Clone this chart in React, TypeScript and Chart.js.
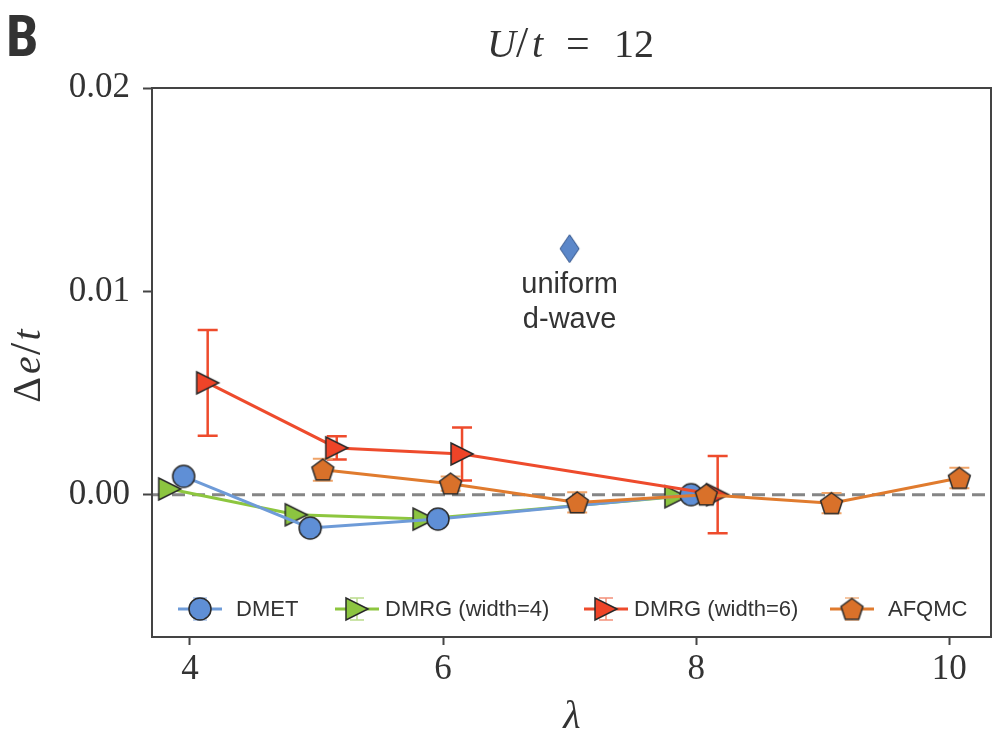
import React, { useEffect, useRef } from "react";
import { Chart, registerables } from "chart.js";
Chart.register(...registerables);

// ---------- data ----------
const xTicks = [4, 6, 8, 10];
const yTicks = [0, 0.01, 0.02];
const xMin = 3.7;
const xMax = 10.33;
const yMin = -0.007;
const yMax = 0.02;

const seriesNames = ["DMET", "DMRG (width=4)", "DMRG (width=6)", "AFQMC"];

const dmetX = [3.95, 4.95, 5.96, 7.96];
const dmetY = [0.0009, -0.00164, -0.0012, 0.0];

const dmrg4X = [3.84, 4.84, 5.85, 7.84];
const dmrg4Y = [0.00028, -0.00099, -0.0012, -0.0001];

const dmrg6X = [4.14, 5.16, 6.15, 8.17];
const dmrg6Y = [0.0055, 0.0023, 0.002, 0.0];
const dmrg6Err = [0.0026, 0.00057, 0.0013, 0.0019];

const afqmcX = [5.05, 6.06, 7.06, 8.08, 9.07, 10.08];
const afqmcY = [0.00123, 0.00054, -0.00038, 0.0, -0.00042, 0.00082];
const afqmcErr = [0.00054, 0.00035, 0.0005, 0.0003, 0.0005, 0.0005];

const dwaveX = [7.0];
const dwaveY = [0.0121];
const dwaveLabel = ["uniform", "d-wave"];

// ---------- styles ----------
const SERIF = '"Liberation Serif", "DejaVu Serif", serif';
const SANS = '"Liberation Sans", Arial, sans-serif';
const TEXT = "#333333";
const AXIS = "#444444";

const C = {
  dmetLine: "#6e9bd8",
  dmetFill: "#5f8fd6",
  dmetCap: "#a9c2e8",
  g4Line: "#8dc63f",
  g4Fill: "#8cc540",
  g4Cap: "#bbdc8c",
  r6Line: "#ee4b2c",
  r6Fill: "#ef4428",
  r6Err: "#ee4b2c",
  r6Cap: "#f3907a",
  afLine: "#e07b2e",
  afFill: "#d9712a",
  afErr: "#f0a468",
  afCap: "#f2b484",
  dwFill: "#5b87c9",
  dwEdge: "#2d4f86",
  edge: "#2a2a2a",
};

function markerCanvas(
  w: number,
  h: number,
  path: (ctx: CanvasRenderingContext2D) => void,
  fill: string,
  stroke: string,
  lw: number
) {
  const c = document.createElement("canvas");
  const pad = Math.ceil(lw) + 1;
  c.width = Math.ceil(w) + 2 * pad;
  c.height = Math.ceil(h) + 2 * pad;
  const ctx = c.getContext("2d")!;
  ctx.translate(c.width / 2, c.height / 2);
  ctx.beginPath();
  path(ctx);
  ctx.closePath();
  ctx.fillStyle = fill;
  ctx.fill();
  ctx.lineWidth = lw;
  ctx.strokeStyle = stroke;
  ctx.lineJoin = "miter";
  ctx.stroke();
  return c;
}

function makeMarkers() {
  const circle = markerCanvas(22, 22, (ctx) => ctx.arc(0, 0, 11, 0, Math.PI * 2), C.dmetFill, C.edge, 1.5);
  const tri = (fill: string) =>
    markerCanvas(
      22,
      22,
      (ctx) => {
        ctx.moveTo(11, 0);
        ctx.lineTo(-11, -11);
        ctx.lineTo(-11, 11);
      },
      fill,
      C.edge,
      1.5
    );
  const r = 11.5;
  const pent = markerCanvas(
    2 * r,
    2 * r,
    (ctx) => {
      for (let k = 0; k < 5; k++) {
        const a = -Math.PI / 2 + (k * 2 * Math.PI) / 5;
        const px = r * Math.cos(a);
        const py = r * Math.sin(a) + 1;
        if (k === 0) ctx.moveTo(px, py);
        else ctx.lineTo(px, py);
      }
    },
    C.afFill,
    C.edge,
    1.5
  );
  const diamond = markerCanvas(
    19,
    28,
    (ctx) => {
      ctx.moveTo(0, -14);
      ctx.lineTo(9.5, 0);
      ctx.lineTo(0, 14);
      ctx.lineTo(-9.5, 0);
    },
    C.dwFill,
    C.dwEdge,
    1
  );
  return { circle, triG: tri(C.g4Fill), triR: tri(C.r6Fill), pent, diamond };
}

const pts = (xs: number[], ys: number[]) => xs.map((x, i) => ({ x, y: ys[i] }));

export default function App() {
  const ref = useRef<HTMLCanvasElement | null>(null);

  useEffect(() => {
    const canvas = ref.current;
    if (!canvas) return;
    const m = makeMarkers();

    const errSeries = [
      { xs: dmrg6X, ys: dmrg6Y, err: dmrg6Err, color: C.r6Err, lw: 2.5 },
      { xs: afqmcX, ys: afqmcY, err: afqmcErr, color: C.afErr, lw: 2 },
    ];

    const underlay = {
      id: "underlay",
      beforeDatasetsDraw(chart: any) {
        const { ctx, chartArea, scales } = chart;
        const y0 = scales.y.getPixelForValue(0);
        ctx.save();
        ctx.beginPath();
        ctx.rect(chartArea.left, chartArea.top, chartArea.right - chartArea.left, chartArea.bottom - chartArea.top);
        ctx.clip();
        ctx.strokeStyle = "#858585";
        ctx.lineWidth = 3;
        ctx.setLineDash([13, 7]);
        ctx.beginPath();
        ctx.moveTo(chartArea.left, y0);
        ctx.lineTo(chartArea.right, y0);
        ctx.stroke();
        ctx.setLineDash([]);
        for (const s of errSeries) {
          ctx.strokeStyle = s.color;
          ctx.lineWidth = s.lw;
          s.xs.forEach((xv, i) => {
            const px = scales.x.getPixelForValue(xv);
            const t = scales.y.getPixelForValue(s.ys[i] + s.err[i]);
            const b = scales.y.getPixelForValue(s.ys[i] - s.err[i]);
            ctx.beginPath();
            ctx.moveTo(px, t);
            ctx.lineTo(px, b);
            ctx.moveTo(px - 10, t);
            ctx.lineTo(px + 10, t);
            ctx.moveTo(px - 10, b);
            ctx.lineTo(px + 10, b);
            ctx.stroke();
          });
        }
        ctx.restore();
      },
    };

    const overlay = {
      id: "overlay",
      afterDraw(chart: any) {
        const { ctx, chartArea, scales } = chart;
        ctx.save();
        // frame
        ctx.strokeStyle = AXIS;
        ctx.lineWidth = 2;
        ctx.strokeRect(chartArea.left, chartArea.top, chartArea.right - chartArea.left, chartArea.bottom - chartArea.top);

        // panel letter
        ctx.fillStyle = TEXT;
        ctx.textBaseline = "alphabetic";
        ctx.textAlign = "left";
        ctx.font = 'bold 58px "Liberation Sans Narrow", "Roboto Condensed", "Liberation Sans", sans-serif';
        ctx.fillText("B", 6, 56);

        // title U/t = 12
        const tFont = (it: boolean, size = 40) => `${it ? "italic " : ""}${size}px ${SERIF}`;
        const title: [string, boolean, number, number][] = [
          ["U", true, 487, 40],
          ["/", false, 516, 44],
          ["t", true, 532, 40],
          ["=", false, 566, 42],
          ["12", false, 614, 40],
        ];
        for (const [s, it, x, sz] of title) {
          ctx.font = tFont(it, sz);
          ctx.fillText(s, x, 57);
        }

        // x label
        ctx.font = `italic 40px ${SERIF}`;
        ctx.textAlign = "center";
        ctx.fillText("\u03bb", 572, 728);

        // y label
        ctx.save();
        ctx.translate(40, 366);
        ctx.rotate(-Math.PI / 2);
        const yl: [string, boolean, number, number][] = [
          ["\u0394", false, -24, 40],
          ["e", true, 1, 40],
          ["/", false, 17, 44],
          ["t", true, 31, 40],
        ];
        for (const [s, it, x, sz] of yl) {
          ctx.font = tFont(it, sz);
          ctx.fillText(s, x, 0);
        }
        ctx.restore();

        // uniform d-wave label
        const dx = scales.x.getPixelForValue(dwaveX[0]);
        const dy = scales.y.getPixelForValue(dwaveY[0]);
        ctx.font = `29px ${SANS}`;
        ctx.textAlign = "center";
        ctx.textBaseline = "middle";
        ctx.fillStyle = TEXT;
        ctx.fillText(dwaveLabel[0], dx, dy + 36);
        ctx.fillText(dwaveLabel[1], dx, dy + 71);

        // legend
        const ly = 609;
        const items = [
          { cx: 200, tx: 236, line: C.dmetLine, cap: C.dmetCap, mk: m.circle },
          { cx: 357, tx: 385, line: C.g4Line, cap: C.g4Cap, mk: m.triG },
          { cx: 606, tx: 634, line: C.r6Line, cap: C.r6Cap, mk: m.triR },
          { cx: 852, tx: 888, line: C.afLine, cap: C.afCap, mk: m.pent },
        ];
        items.forEach((it, i) => {
          ctx.strokeStyle = it.line;
          ctx.lineWidth = 3;
          ctx.beginPath();
          ctx.moveTo(it.cx - 22, ly);
          ctx.lineTo(it.cx + 22, ly);
          ctx.stroke();
          ctx.strokeStyle = it.cap;
          ctx.lineWidth = 1.5;
          ctx.beginPath();
          ctx.moveTo(it.cx, ly - 11);
          ctx.lineTo(it.cx, ly + 11);
          ctx.moveTo(it.cx - 7, ly - 11);
          ctx.lineTo(it.cx + 7, ly - 11);
          ctx.moveTo(it.cx - 7, ly + 11);
          ctx.lineTo(it.cx + 7, ly + 11);
          ctx.stroke();
          ctx.drawImage(it.mk, it.cx - it.mk.width / 2, ly - it.mk.height / 2);
          ctx.font = `22px ${SANS}`;
          ctx.textAlign = "left";
          ctx.textBaseline = "middle";
          ctx.fillStyle = TEXT;
          ctx.fillText(seriesNames[i], it.tx, ly + 1);
        });
        ctx.restore();
      },
    };

    const chart = new Chart(canvas, {
      type: "scatter",
      data: {
        datasets: [
          {
            label: seriesNames[3],
            data: pts(afqmcX, afqmcY),
            showLine: true,
            borderColor: C.afLine,
            borderWidth: 3,
            pointStyle: m.pent as any,
            pointRadius: 10,
            order: 0,
          },
          {
            label: seriesNames[2],
            data: pts(dmrg6X, dmrg6Y),
            showLine: true,
            borderColor: C.r6Line,
            borderWidth: 3,
            pointStyle: m.triR as any,
            pointRadius: 10,
            order: 1,
          },
          {
            label: seriesNames[0],
            data: pts(dmetX, dmetY),
            showLine: true,
            borderColor: C.dmetLine,
            borderWidth: 3,
            pointStyle: m.circle as any,
            pointRadius: 10,
            order: 2,
          },
          {
            label: seriesNames[1],
            data: pts(dmrg4X, dmrg4Y),
            showLine: true,
            borderColor: C.g4Line,
            borderWidth: 3,
            pointStyle: m.triG as any,
            pointRadius: 10,
            order: 3,
          },
          {
            label: "uniform d-wave",
            data: pts(dwaveX, dwaveY),
            showLine: false,
            pointStyle: m.diamond as any,
            pointRadius: 10,
            order: 4,
          },
        ],
      },
      options: {
        animation: false,
        responsive: false,
        events: [],
        layout: { padding: { left: 0, top: 88, right: 9, bottom: 0 } },
        plugins: {
          legend: { display: false },
          tooltip: { enabled: false },
          title: { display: false },
        },
        scales: {
          x: {
            type: "linear",
            min: xMin,
            max: xMax,
            afterBuildTicks: (axis: any) => {
              axis.ticks = xTicks.map((v) => ({ value: v }));
            },
            afterFit: (axis: any) => {
              axis.height = 742 - 637;
            },
            ticks: {
              callback: (v: any) => String(v),
              font: { family: SERIF, size: 35 },
              color: TEXT,
              padding: 4,
              maxRotation: 0,
            },
            grid: {
              display: true,
              drawOnChartArea: false,
              drawTicks: true,
              tickLength: 8,
              tickWidth: 2,
              tickColor: AXIS,
              color: AXIS,
            },
            border: { display: true, color: AXIS, width: 2 },
          },
          y: {
            type: "linear",
            min: yMin,
            max: yMax,
            afterBuildTicks: (axis: any) => {
              axis.ticks = yTicks.map((v) => ({ value: v }));
            },
            afterFit: (axis: any) => {
              axis.width = 152;
            },
            ticks: {
              callback: (v: any) => Number(v).toFixed(2),
              font: { family: SERIF, size: 35 },
              color: TEXT,
              padding: 13,
            },
            grid: {
              display: true,
              drawOnChartArea: false,
              drawTicks: true,
              tickLength: 9,
              tickWidth: 2,
              tickColor: AXIS,
              color: AXIS,
            },
            border: { display: true, color: AXIS, width: 2 },
          },
        },
      },
      plugins: [underlay, overlay],
    } as any);

    return () => chart.destroy();
  }, []);

  return (
    <div style={{ position: "fixed", left: 0, top: 0, width: 1004, height: 742, background: "#fff" }}>
      <canvas ref={ref} width={1004} height={742} style={{ display: "block", width: 1004, height: 742 }} />
    </div>
  );
}
